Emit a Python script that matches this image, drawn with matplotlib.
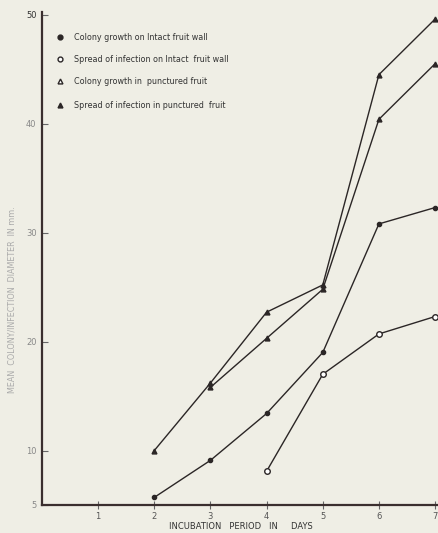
import matplotlib
matplotlib.use("Agg")
import matplotlib.pyplot as plt

days_intact_colony = [2, 3, 4, 5, 6, 7]
intact_colony = [5.7, 9.1, 13.4, 19.0, 30.8, 32.3]
days_intact_spread = [4, 5, 6, 7]
intact_spread = [8.1, 17.0, 20.7, 22.3]
days_punct_colony = [3, 4, 5, 6, 7]
punct_colony = [15.8, 20.3, 24.8, 40.4, 45.5]
days_punct_spread = [2, 3, 4, 5, 6, 7]
punct_spread = [10.0, 16.2, 22.7, 25.2, 44.5, 49.6]

legend_labels = ["Colony growth on Intact fruit wall",
                 "Spread of infection on Intact  fruit wall",
                 "Colony growth in  punctured fruit",
                 "Spread of infection in punctured  fruit"]
x_ticks = [1, 2, 3, 4, 5, 6, 7]
y_ticks = [5, 10, 20, 30, 40, 50]

bg = "#efeee5"
ink = "#2b2626"
fig = plt.figure(figsize=(4.39, 5.33), dpi=100, facecolor=bg)
ax = fig.add_axes([42/439, 28/533, 397/439, 493/533], facecolor=bg)
ax.set_xlim(0, 7.07)
ax.set_ylim(5, 50.25)

lw = 1.0
ax.plot(days_intact_colony, intact_colony, color=ink, lw=lw, marker="o", ms=3, mfc=ink, mec=ink)
ax.plot(days_intact_spread, intact_spread, color=ink, lw=lw, marker="o", ms=4, mfc="white", mec=ink, mew=1.0)
ax.plot(days_punct_colony, punct_colony, color=ink, lw=lw, marker="^", ms=3.5, mfc=ink, mec=ink)
ax.plot(days_punct_spread, punct_spread, color=ink, lw=lw, marker="^", ms=3.5, mfc=ink, mec=ink)

for s in ["top", "right"]:
    ax.spines[s].set_visible(False)
ax.spines["left"].set_color("#3a2e2e")
ax.spines["left"].set_linewidth(1.6)
ax.spines["bottom"].set_color("#3a2e2e")
ax.spines["bottom"].set_linewidth(1.6)

ax.set_xticks(x_ticks)
ax.set_xticklabels([str(t) for t in x_ticks], fontsize=6, color="#555")
ax.tick_params(axis="x", direction="inout", length=6, width=0.8, color="#666", pad=2)
ax.set_yticks(y_ticks)
ax.set_yticklabels([str(t) for t in y_ticks], fontsize=6, color="#888")
ax.get_yticklabels()[-1].set_color("#333")
ax.tick_params(axis="y", direction="in", length=4, width=0.8, color="#666", pad=4)

ax.set_xlabel("INCUBATION   PERIOD   IN     DAYS", fontsize=6, color="#333", labelpad=1)
fig.text(12/439, 1 - 300/533, "MEAN  COLONY/INFECTION  DIAMETER  IN mm.",
         rotation=90, fontsize=5.8, color="#aaa", ha="center", va="center")

# legend
leg_y = [37, 59, 81, 105]
markers = [("o", ink), ("o", "white"), ("^", "white"), ("^", ink)]
for (m, fc), lab, yy in zip(markers, legend_labels, leg_y):
    fy = 1 - yy / 533
    fig.lines.append(plt.Line2D([60/439], [fy], transform=fig.transFigure, marker=m,
                                ms=3.5, mfc=fc, mec=ink, mew=1.0, ls="none"))
    fig.text(74/439, fy, lab, fontsize=5.8, color="#333", va="center", ha="left")

fig.savefig("out.png", dpi=100, facecolor=bg)
